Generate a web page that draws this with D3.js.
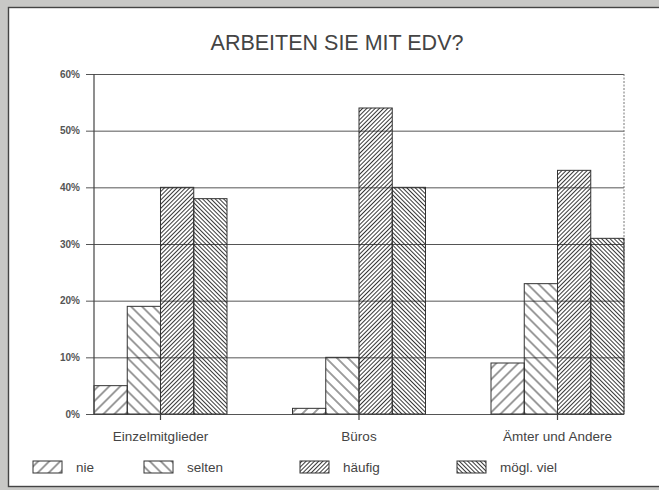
<!DOCTYPE html>
<html>
<head>
<meta charset="utf-8">
<script src="https://cdn.jsdelivr.net/npm/d3@7"></script>
<style>
  html, body { margin: 0; padding: 0; background: #c8c8c6; }
  svg { display: block; }
  text { font-family: "Liberation Sans", Arial, Helvetica, sans-serif; }
</style>
</head>
<body>
<svg id="chart" width="659" height="490"></svg>
<script>
// data
const categories = ["Einzelmitglieder", "Büros", "Ämter und Andere"];
const series = ["nie", "selten", "häufig", "mögl. viel"];
const nie = [5, 1, 9];
const selten = [19, 10, 23];
const haeufig = [40, 54, 43];
const moeglViel = [38, 40, 31];
const yTicks = [0, 10, 20, 30, 40, 50, 60];
const yTickLabels = ["0%", "10%", "20%", "30%", "40%", "50%", "60%"];

const values = [nie, selten, haeufig, moeglViel];

const svg = d3.select("#chart");
const plotL = 94, plotR = 624, plotT = 74, plotB = 414;

// panel
svg.append("rect")
  .attr("x", 8.5).attr("y", 7.5)
  .attr("width", 660).attr("height", 479)
  .attr("fill", "#fff")
  .attr("stroke", "#444").attr("stroke-width", 1.4);

// hatch patterns: spacing (px, horizontal) and direction
const hatch = [
  {id: "p0", gap: 11, rot: 45},
  {id: "p1", gap: 11, rot: -45},
  {id: "p2", gap: 4.2, rot: 45},
  {id: "p3", gap: 4.2, rot: -45}
];
const defs = svg.append("defs");
hatch.forEach(function(h) {
  const s = h.gap * Math.SQRT1_2;
  const p = defs.append("pattern")
    .attr("id", h.id)
    .attr("patternUnits", "userSpaceOnUse")
    .attr("width", s).attr("height", 10)
    .attr("patternTransform", "rotate(" + h.rot + ")");
  p.append("line")
    .attr("x1", s / 2).attr("x2", s / 2)
    .attr("y1", 0).attr("y2", 10)
    .attr("stroke", "#222").attr("stroke-width", 0.9);
});

const x0 = d3.scaleBand()
  .domain(categories)
  .range([plotL, plotR])
  .paddingInner(0.33)
  .paddingOuter(0);

const x1 = d3.scaleBand()
  .domain(series)
  .range([0, x0.bandwidth()]);

const y = d3.scaleLinear()
  .domain([0, 60])
  .range([plotB, plotT]);

// title
svg.append("text")
  .attr("x", 337).attr("y", 50)
  .attr("text-anchor", "middle")
  .attr("font-size", 21.5)
  .attr("fill", "#444")
  .text("ARBEITEN SIE MIT EDV?");

// gridlines + y labels (axis hung on the right edge, ticks reach back past the left axis)
const yAxis = d3.axisLeft(y)
  .tickValues(yTicks)
  .tickFormat(function(d, i) { return yTickLabels[i]; })
  .tickSize(plotR - plotL + 8)
  .tickPadding(6);

const gy = svg.append("g")
  .attr("transform", "translate(" + plotR + ",0)")
  .call(yAxis);
gy.select(".domain").remove();
gy.selectAll(".tick line").attr("stroke", "#555").attr("stroke-width", 1);
gy.selectAll(".tick text")
  .attr("font-size", 10)
  .attr("font-weight", "bold")
  .attr("fill", "#555")
  .style("font-family", "'Liberation Sans', Arial, sans-serif");

// right border, dotted
svg.append("line")
  .attr("x1", plotR).attr("x2", plotR)
  .attr("y1", plotT).attr("y2", plotB)
  .attr("stroke", "#777").attr("stroke-width", 1)
  .attr("stroke-dasharray", "2,1.5");

// bars
const groups = svg.append("g").selectAll("g")
  .data(categories)
  .join("g")
  .attr("transform", function(d) { return "translate(" + x0(d) + ",0)"; });

groups.selectAll("rect")
  .data(function(d, ci) {
    return series.map(function(s, si) { return {s: s, si: si, v: values[si][ci]}; });
  })
  .join("rect")
  .attr("x", function(d) { return x1(d.s); })
  .attr("y", function(d) { return y(d.v); })
  .attr("width", x1.bandwidth())
  .attr("height", function(d) { return y(0) - y(d.v); })
  .attr("fill", function(d) { return "url(#" + hatch[d.si].id + ")"; })
  .attr("stroke", "#333")
  .attr("stroke-width", 1);

// left axis line
svg.append("line")
  .attr("x1", plotL).attr("x2", plotL)
  .attr("y1", plotT).attr("y2", plotB)
  .attr("stroke", "#444").attr("stroke-width", 1.2);

// x axis: ticks at group centres, labels below
const xAxis = d3.axisBottom(x0).tickSize(6).tickPadding(0);
const gx = svg.append("g")
  .attr("transform", "translate(0," + plotB + ")")
  .call(xAxis);
gx.select(".domain").remove();
gx.selectAll(".tick line").attr("stroke", "#444").attr("stroke-width", 1.2);
gx.selectAll(".tick text")
  .attr("y", 27).attr("dy", 0)
  .attr("font-size", 13.5)
  .attr("fill", "#444")
  .style("font-family", "'Liberation Sans', Arial, sans-serif");

// legend
const legendX = [33, 144, 300, 457];
const legend = svg.append("g").selectAll("g")
  .data(series)
  .join("g")
  .attr("transform", function(d, i) { return "translate(" + legendX[i] + ",461)"; });

legend.append("rect")
  .attr("width", 29).attr("height", 12)
  .attr("fill", function(d, i) { return "url(#" + hatch[i].id + ")"; })
  .attr("stroke", "#333").attr("stroke-width", 1);

legend.append("text")
  .attr("x", 43).attr("y", 11)
  .attr("font-size", 13.5)
  .attr("fill", "#444")
  .text(function(d) { return d; });
</script>
</body>
</html>
